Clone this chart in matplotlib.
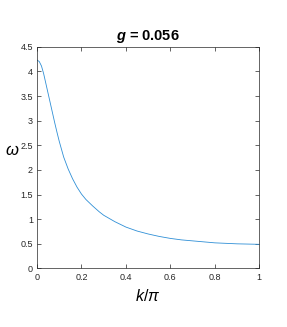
import matplotlib
matplotlib.use('Agg')
import matplotlib.pyplot as plt

plt.rcParams['font.family'] = ['Liberation Sans', 'DejaVu Sans']
plt.rcParams['mathtext.fontset'] = 'custom'
plt.rcParams['mathtext.rm'] = 'Liberation Sans'
plt.rcParams['mathtext.it'] = 'Liberation Sans:italic'
plt.rcParams['mathtext.bf'] = 'Liberation Sans:bold'
plt.rcParams['mathtext.bfit'] = 'Liberation Sans:bold:italic'

# dispersion
k_over_pi = [0, 0.01, 0.02, 0.03, 0.04, 0.05, 0.06, 0.07, 0.08, 0.09, 0.1,
             0.12, 0.14, 0.16, 0.18, 0.2, 0.22, 0.25, 0.28, 0.3, 0.35, 0.4,
             0.45, 0.5, 0.55, 0.6, 0.65, 0.7, 0.8, 0.9, 1.0]
omega = [4.23, 4.20, 4.11, 3.95, 3.75, 3.55, 3.35, 3.15, 2.95, 2.76, 2.58,
         2.26, 2.02, 1.82, 1.65, 1.51, 1.40, 1.27, 1.15, 1.08, 0.95, 0.84,
         0.76, 0.70, 0.65, 0.61, 0.58, 0.56, 0.52, 0.50, 0.49]
x_ticks = [0, 0.2, 0.4, 0.6, 0.8, 1]
y_ticks = [0, 0.5, 1, 1.5, 2, 2.5, 3, 3.5, 4, 4.5]
g_value = '0.056'

dark = (0.15, 0.15, 0.15)

fig = plt.figure(figsize=(2.87, 3.27), dpi=100)
ax = fig.add_axes([0.129, 0.179, 0.7745, 0.678])

ax.plot(k_over_pi, omega, color='#2f8fd6', linewidth=0.6)

ax.set_xlim(0, 1)
ax.set_ylim(0, 4.5)
ax.set_xticks(x_ticks)
ax.set_yticks(y_ticks)
ax.set_xticklabels([f'{t:g}' for t in x_ticks])
ax.set_yticklabels([f'{t:g}' for t in y_ticks])
ax.tick_params(direction='in', length=3, width=0.5, colors=dark, labelsize=6.5,
               top=True, right=True, pad=3)
for s in ax.spines.values():
    s.set_linewidth(0.5)
    s.set_color(dark)

ax.set_xlabel(r'$k/\pi$', fontsize=11.5)
ax.xaxis.set_label_coords(0.5, -0.088)
ax.set_ylabel(r'$\omega$', fontsize=12, rotation=0, va='center', ha='center')
ax.yaxis.set_label_coords(-0.113, 0.534)

ax.text(0.5, 1.047, r'$\mathbfit{g}$ = ' + g_value, transform=ax.transAxes,
        ha='center', va='center', fontsize=10.5, fontweight='bold')

fig.savefig('out.png', dpi=100)
